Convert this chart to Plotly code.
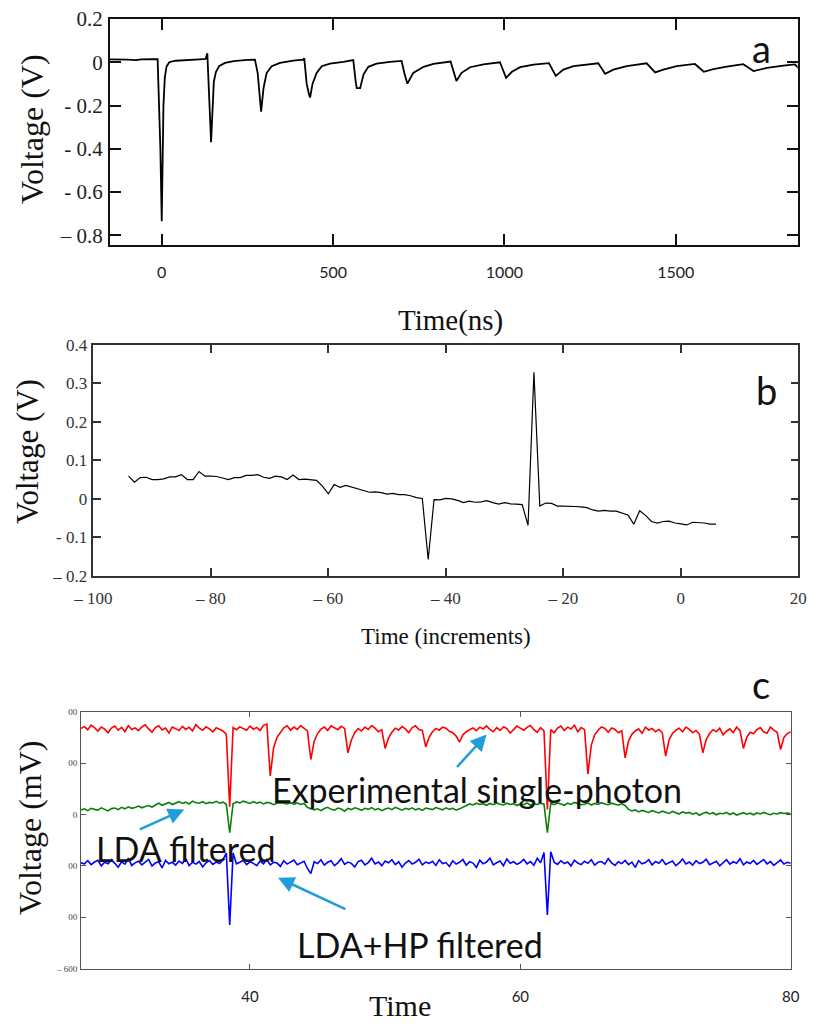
import plotly.graph_objects as go

# ---------------- Panel a data (time in ns, voltage in V) ----------------
a_time = [-151, -130, -100, -75, -60, -30, -12, -4, 0, 5, 9, 14, 22, 40, 70, 110, 128,
          133, 144, 148, 152, 158, 168, 185, 210, 250, 272,
          280, 290, 297, 306, 321, 345, 384, 413,
          416, 423, 430, 433, 440, 452, 467, 491, 530, 559,
          566, 569, 579, 589, 603, 627, 666, 700,
          708, 717, 734, 764, 793, 843,
          860, 875, 900, 939, 987,
          1005, 1022, 1046, 1085, 1130,
          1150, 1172, 1202, 1240, 1274,
          1294, 1318, 1357, 1415,
          1440, 1464, 1503, 1556,
          1582, 1610, 1649, 1697,
          1727, 1766, 1814, 1848, 1860]
a_volt = [0.013, 0.014, 0.012, 0.010, 0.013, 0.014, 0.014, -0.4, -0.735, -0.2, -0.07, -0.02, 0.0, 0.007, 0.011, 0.013, 0.015,
          0.042, -0.37, -0.2, -0.09, -0.045, -0.017, -0.003, 0.005, 0.011, 0.012,
          -0.05, -0.229, -0.12, -0.05, -0.018, -0.003, 0.008, 0.012,
          0.018, -0.1, -0.15, -0.163, -0.1, -0.049, -0.018, -0.006, 0.002, 0.01,
          -0.09, -0.12, -0.12, -0.056, -0.021, -0.006, 0.002, 0.006,
          -0.05, -0.099, -0.049, -0.021, -0.008, 0.003,
          -0.087, -0.049, -0.023, -0.01, 0.0,
          -0.072, -0.044, -0.023, -0.011, -0.004,
          -0.063, -0.034, -0.018, -0.011, -0.005,
          -0.053, -0.034, -0.018, -0.005,
          -0.047, -0.034, -0.018, -0.008,
          -0.044, -0.032, -0.020, -0.009,
          -0.041, -0.026, -0.016, -0.010, -0.03]
a_xticks = [0, 500, 1000, 1500]
a_xlabels = ["0", "500", "1000", "1500"]
a_yticks = [0.2, 0, -0.2, -0.4, -0.6, -0.8]
a_ylabels = ["0.2", "0", "- 0.2", "- 0.4", "- 0.6", "\u2013 0.8"]

# ---------------- Panel b data (time increments, voltage V) ----------------
b_time = list(range(-94, 7))
b_volt = [0.059, 0.043, 0.055, 0.056, 0.050, 0.050, 0.052, 0.057, 0.057, 0.063,
          0.050, 0.050, 0.071, 0.059, 0.059, 0.058, 0.054, 0.050, 0.055, 0.055,
          0.061, 0.061, 0.063, 0.056, 0.053, 0.059, 0.057, 0.050, 0.062, 0.050,
          0.051, 0.050, 0.048, 0.033, 0.013, 0.037, 0.030, 0.035, 0.030, 0.026,
          0.022, 0.017, 0.018, 0.016, 0.012, 0.014, 0.011, 0.011, 0.008, 0.003,
          0.001, -0.158, -0.002, -0.003, 0.001, 0.0, -0.004, -0.010, -0.006, -0.009,
          -0.008, -0.005, -0.010, -0.014, -0.010, -0.013, -0.014, -0.015, -0.069, 0.329,
          -0.019, -0.011, -0.012, -0.019, -0.019, -0.019, -0.020, -0.021, -0.023, -0.029,
          -0.032, -0.030, -0.032, -0.032, -0.037, -0.042, -0.066, -0.031, -0.043, -0.059,
          -0.063, -0.059, -0.058, -0.063, -0.065, -0.068, -0.061, -0.062, -0.063, -0.066,
          -0.066]
b_xticks = [-100, -80, -60, -40, -20, 0, 20]
b_xlabels = ["\u2013 100", "\u2013 80", "\u2013 60", "\u2013 40", "\u2013 20", "0", "20"]
b_yticks = [-0.2, -0.1, 0, 0.1, 0.2, 0.3, 0.4]
b_ylabels = ["\u2013 0.2", "- 0.1", "0", "0.1", "0.2", "0.3", "0.4"]

# ---------------- Panel c data (mV), samples every 0.25 from t=27.5 ----------------
c_t0 = 27.5
c_dt = 0.25
c_red = [335, 342, 330, 348, 338, 325, 340, 332, 318, 336,
         344, 328, 339, 322, 346, 331, 337, 326, 341, 349,
         333, 320, 338, 345, 329, 336, 317, 340, 334, 327,
         343, 331, 339, 325, 350, 336, 328, 341, 333, 322,
         338, 330, 325, 312, 30, 338, 330, 341, 335, 328,
         344, 332, 339, 327, 347, 352, 150, 260, 300, 318,
         337, 345, 328, 340, 331, 346, 336, 325, 214, 285,
         315, 332, 340, 327, 345, 338, 330, 343, 335, 240,
         290, 318, 334, 325, 340, 331, 346, 336, 322, 330,
         257, 298, 320, 336, 329, 342, 333, 318, 338, 345,
         331, 327, 263, 300, 322, 335, 328, 340, 336, 324,
         318, 305, 282, 310, 322, 330, 337, 326, 340, 333,
         345, 331, 322, 338, 327, 341, 335, 317, 332, 344,
         336, 328, 339, 346, 330, 320, 338, 325, 20, 330,
         318, 336, 344, 327, 340, 333, 348, 322, 338, 330,
         158, 270, 310, 328, 341, 335, 320, 337, 331, 318,
         326, 220, 285, 312, 325, 333, 316, 340, 329, 335,
         322, 331, 318, 227, 290, 315, 328, 336, 322, 340,
         331, 318, 327, 312, 240, 292, 315, 330, 322, 336,
         310, 324, 333, 318, 340, 326, 257, 300, 320, 314,
         330, 338, 322, 316, 340, 328, 320, 253, 300, 315, 322]
c_green = [18, 22, 15, 24, 20, 17, 26, 21, 14, 23,
           25, 19, 28, 22, 30, 24, 27, 33, 26, 31,
           35, 29, 38, 44, 36, 42, 47, 39, 45, 50,
           43, 48, 41, 52, 46, 44, 50, 42, 47, 45,
           51, 44, 48, 40, -71, 42, 49, 45, 52, 46,
           43, 50, 44, 48, 41, 47, 45, 38, 44, 46,
           44, 41, 46, 40, 45, 39, 43, 28, 22, 18,
           22, 15, 23, 28, 20, 17, 25, 21, 13, 24,
           19, 26, 22, 16, 24, 20, 27, 18, 23, 15,
           21, 25, 19, 28, 22, 17, 24, 20, 26, 18,
           23, 16, 25, 21, 19, 27, 22, 18, 26, 20,
           24, 17, 22, 28, 35, 41, 37, 44, 39, 42,
           36, 43, 38, 45, 40, 37, 44, 39, 42, 35,
           41, 38, 45, 36, 42, 39, 44, 40, -71, 43,
           38, 45, 41, 36, 44, 39, 47, 42, 38, 40,
           45, 37, 43, 39, 46, 41, 38, 44, 40, 36,
           42, 35, 20, 14, 18, 10, 16, 12, 8, 15,
           11, 6, 13, 9, 4, 12, 7, 2, 10, 5,
           8, 1, 6, -3, 4, 9, 2, 7, -1, 5,
           3, 8, 0, 6, -2, 4, 7, 1, 5, -1,
           6, 2, 8, 3, -1, 5, 2, 7, 4, 6, 3]
c_blue = [-188, -192, -180, -195, -185, -178, -200, -186, -192, -176,
          -190, -205, -184, -193, -170, -198, -188, -182, -196, -187,
          -175, -200, -189, -184, -208, -179, -192, -186, -197, -181,
          -190, -172, -199, -186, -193, -183, -204, -188, -179, -194,
          -185, -191, -176, -150, -430, -150, -192, -186, -178, -195,
          -184, -190, -199, -181, -192, -175, -196, -186, -189, -202,
          -180, -193, -185, -177, -195, -188, -182, -210, -230, -184,
          -191, -176, -197, -186, -180, -199, -188, -172, -194, -185,
          -190, -204, -183, -178, -196, -187, -170, -192, -185, -199,
          -181, -188, -176, -195, -184, -205, -189, -179, -193, -186,
          -174, -196, -185, -190, -182, -198, -176, -191, -187, -202,
          -180, -193, -186, -175, -197, -184, -189, -206, -178, -192,
          -185, -170, -196, -188, -181, -199, -173, -190, -184, -194,
          -187, -175, -192, -183, -198, -170, -188, -148, -391, -145,
          -186, -194, -180, -191, -185, -200, -178, -189, -195, -182,
          -190, -176, -197, -186, -183, -193, -172, -188, -198, -184,
          -191, -179, -195, -185, -206, -180, -192, -187, -176, -196,
          -183, -190, -175, -194, -186, -181, -199, -188, -173, -192,
          -185, -197, -180, -191, -186, -174, -195, -188, -182, -200,
          -187, -176, -193, -184, -190, -172, -196, -185, -191, -179,
          -194, -186, -175, -192, -183, -198, -188, -177, -193, -186, -190]
c_xticks = [40, 60, 80]
c_xlabels = ["40", "60", "80"]
c_yticks = [-600, -400, -200, 0, 200, 400]
c_ylabels = ["\u2013 600", "00", "00", "0", "00", "00"]

SERIF = "Liberation Serif, Times New Roman, serif"
SANS = "Lato, Open Sans, sans-serif"
W, H = 832, 1025


def px(x):
    return x / W


def py(y):
    return 1 - y / H


fig = go.Figure()
fig.add_trace(go.Scatter(x=a_time, y=a_volt, mode="lines", line=dict(color="black", width=1.8),
                         xaxis="x", yaxis="y", showlegend=False))
fig.add_trace(go.Scatter(x=b_time, y=b_volt, mode="lines", line=dict(color="black", width=1.2),
                         xaxis="x2", yaxis="y2", showlegend=False))
fig.add_trace(go.Scatter(y=c_red, x0=c_t0, dx=c_dt, mode="lines", line=dict(color="#ff0000", width=1.6),
                         xaxis="x3", yaxis="y3", showlegend=False))
fig.add_trace(go.Scatter(y=c_green, x0=c_t0, dx=c_dt, mode="lines", line=dict(color="#0a7f0a", width=1.6),
                         xaxis="x3", yaxis="y3", showlegend=False))
fig.add_trace(go.Scatter(y=c_blue, x0=c_t0, dx=c_dt, mode="lines", line=dict(color="#0000ff", width=1.6),
                         xaxis="x3", yaxis="y3", showlegend=False))


def axis(domain, rng, tickvals, ticktext, font, lw, lc, ticklen, anchor, standoff):
    return dict(domain=domain, range=rng, tickvals=tickvals, ticktext=ticktext,
                tickfont=font, showline=True, linewidth=lw, linecolor=lc, mirror="ticks",
                ticks="inside", ticklen=ticklen, tickwidth=lw, tickcolor=lc,
                showgrid=False, zeroline=False, anchor=anchor, ticklabelstandoff=standoff,
                fixedrange=True, automargin=False)


fig.update_layout(
    width=W, height=H, margin=dict(l=0, r=0, t=0, b=0, pad=0, autoexpand=False),
    paper_bgcolor="white", plot_bgcolor="white", showlegend=False,
    xaxis=axis([px(110), px(797.7)], [-151, 1856], a_xticks, a_xlabels,
               dict(family=SANS, size=16, color="#222"), 2, "#111", 11, "y", 12),
    yaxis=axis([py(245), py(19)], [-0.845, 0.2], a_yticks, a_ylabels,
               dict(family=SERIF, size=21, color="#222"), 2, "#111", 11, "x", 1),
    xaxis2=axis([px(93.3), px(798.3)], [-100, 20], b_xticks, b_xlabels,
                dict(family=SERIF, size=17, color="#333"), 1.5, "#333", 8, "y2", 6),
    yaxis2=axis([py(575.7), py(345)], [-0.2, 0.4], b_yticks, b_ylabels,
                dict(family=SERIF, size=17, color="#333"), 1.5, "#333", 8, "x2", 1),
    xaxis3=axis([px(81), px(790.7)], [27.5, 80], c_xticks, c_xlabels,
                dict(family=SANS, size=15, color="#222"), 1, "#555", 5, "y3", 14),
    yaxis3=axis([py(968.7), py(711.7)], [-600, 400], c_yticks, c_ylabels,
                dict(family=SERIF, size=9, color="#444"), 1, "#555", 5, "x3", 1),
)

ann = []


def text(x, y, s, font, angle=0, yanchor="middle"):
    ann.append(dict(x=px(x), y=py(y), xref="paper", yref="paper", text=s, showarrow=False,
                    xanchor="center", yanchor=yanchor, font=font, textangle=angle))


text(32, 129, "Voltage (V)", dict(family=SERIF, size=32, color="#111"), -90)
text(450, 320, "Time(ns)", dict(family=SERIF, size=29, color="#111"))
text(761, 48, "a", dict(family=SANS, size=38, color="#111"))
text(28, 452, "Voltage (V)", dict(family=SERIF, size=31, color="#111"), -90)
text(446, 636, "Time (increments)", dict(family=SERIF, size=23, color="#111"))
text(766, 390, "b", dict(family=SANS, size=38, color="#111"))
text(30, 828, "Voltage (mV)", dict(family=SERIF, size=32, color="#111"), -90)
text(400, 1024, "Time", dict(family=SERIF, size=30, color="#111"), 0, "bottom")
text(761, 684, "c", dict(family=SANS, size=38, color="#111"))
text(477, 789, "Experimental single-photon", dict(family=SANS, size=34, color="#111"))
text(185, 848, "LDA filtered", dict(family=SANS, size=34, color="#111"))
text(420, 944, "LDA+HP filtered", dict(family=SANS, size=34, color="#111"))

ARROW = "#1f9fd9"
for (hx, hy, tx, ty) in [(35.14, 19.5, 31.74, -60.7),
                         (57.51, 311, 55.21, 179),
                         (42.07, -246, 47.17, -371)]:
    ann.append(dict(x=hx, y=hy, xref="x3", yref="y3", ax=tx, ay=ty, axref="x3", ayref="y3",
                    text="", showarrow=True, arrowhead=2, arrowsize=1.3, arrowwidth=2.5,
                    arrowcolor=ARROW))

fig.update_layout(annotations=ann)
fig.write_html("out.html")
